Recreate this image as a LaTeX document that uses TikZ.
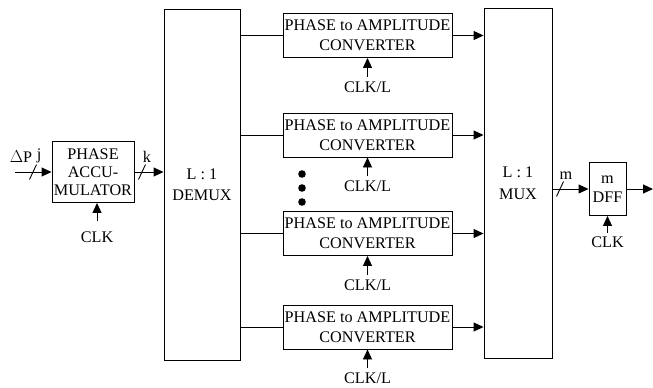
\documentclass[tikz,border=0pt]{standalone}
\usepackage{fontspec}
\setmainfont{Liberation Serif}
\usetikzlibrary{arrows.meta}
\begin{document}
\begin{tikzpicture}[x=1pt,y=-1pt,
  line width=0.9pt,
  txt/.style={font=\fontsize{16.2}{19}\selectfont, inner sep=0pt},
  blk/.style={draw, txt, align=center, inner sep=0pt},
  conv/.style={blk, minimum width=169pt, minimum height=44pt, font=\fontsize{16.2}{20}\selectfont},
  arr/.style={-{Triangle[length=10pt,width=9pt]}},
  slash/.style={line width=0.9pt}]
\useasboundingbox (0,0) rectangle (653,388);
% blocks
\node[blk, minimum width=82pt, minimum height=61pt, font=\fontsize{16.2}{18}\selectfont] (acc) at (93,172) {PHASE\\ACCU-\\MULATOR};
\node[blk, minimum width=76pt, minimum height=351pt, font=\fontsize{16.2}{21}\selectfont] (demux) at (202,184.5) {L : 1\\DEMUX};
\node[blk, minimum width=68pt, minimum height=350pt, font=\fontsize{16.2}{22}\selectfont] (mux) at (518,183) {L : 1\\MUX};
\node[blk, minimum width=37pt, minimum height=53pt, font=\fontsize{16.2}{19}\selectfont] (dff) at (607.5,189) {m\\DFF};
\node[conv] (c1) at (367.5,35.5) {PHASE to AMPLITUDE\\CONVERTER};
\node[conv] (c2) at (367.5,135) {PHASE to AMPLITUDE\\CONVERTER};
\node[conv] (c3) at (367.5,233.5) {PHASE to AMPLITUDE\\CONVERTER};
\node[conv] (c4) at (367.5,327) {PHASE to AMPLITUDE\\CONVERTER};
% input
\coordinate (in) at (15,172);
\draw[arr] (in) -- (acc.west);
\coordinate (sj) at (33,172);
\draw[slash] ([shift={(-3.5,7.5)}]sj) -- ([shift={(3.5,-7.5)}]sj);
\node[txt] (dp) at (21,157) {$\Delta$P};
\node[txt] (jl) at (39,156) {j};
% acc -> demux
\draw[arr] (acc.east) -- (acc.east -| demux.west);
\coordinate (sk) at (142,172);
\draw[slash] ([shift={(-3.5,7.5)}]sk) -- ([shift={(3.5,-7.5)}]sk);
\node[txt] (kl) at (147,157) {k};
% acc clk
\node[txt] (accclk) at (97,237) {CLK};
\coordinate (accclkt) at (97,221);
\draw[arr] (accclkt) -- (accclkt |- acc.south);
% demux -> converters -> mux
\foreach \c in {c1,c2,c3,c4}{
  \draw (demux.east |- \c.west) -- (\c.west);
  \draw[arr] (\c.east) -- (\c.east -| mux.west);
  \coordinate (\c t) at ([shift={(0,19)}]\c.south);
  \draw[arr] (\c t) -- (\c.south);
  \node[txt] (\c l) at ([shift={(0,29)}]\c.south) {CLK/L};
}
% dots
\fill (302,174) circle (3.8pt);
\fill (302,188) circle (3.8pt);
\fill (302,202) circle (3.8pt);
% mux -> dff
\draw[arr] (mux.east |- dff.west) -- (dff.west);
\coordinate (sm) at (560,189);
\draw[slash] ([shift={(-3.5,7.5)}]sm) -- ([shift={(3.5,-7.5)}]sm);
\node[txt] (ml) at (566,176) {m};
% dff out
\coordinate (out) at (653,189);
\draw[arr] (dff.east) -- (out);
% dff clk
\coordinate (dffclkt) at (607.5,233);
\draw[arr] (dffclkt) -- (dff.south);
\node[txt] (dffclk) at (607.5,242) {CLK};
\end{tikzpicture}
\end{document}
